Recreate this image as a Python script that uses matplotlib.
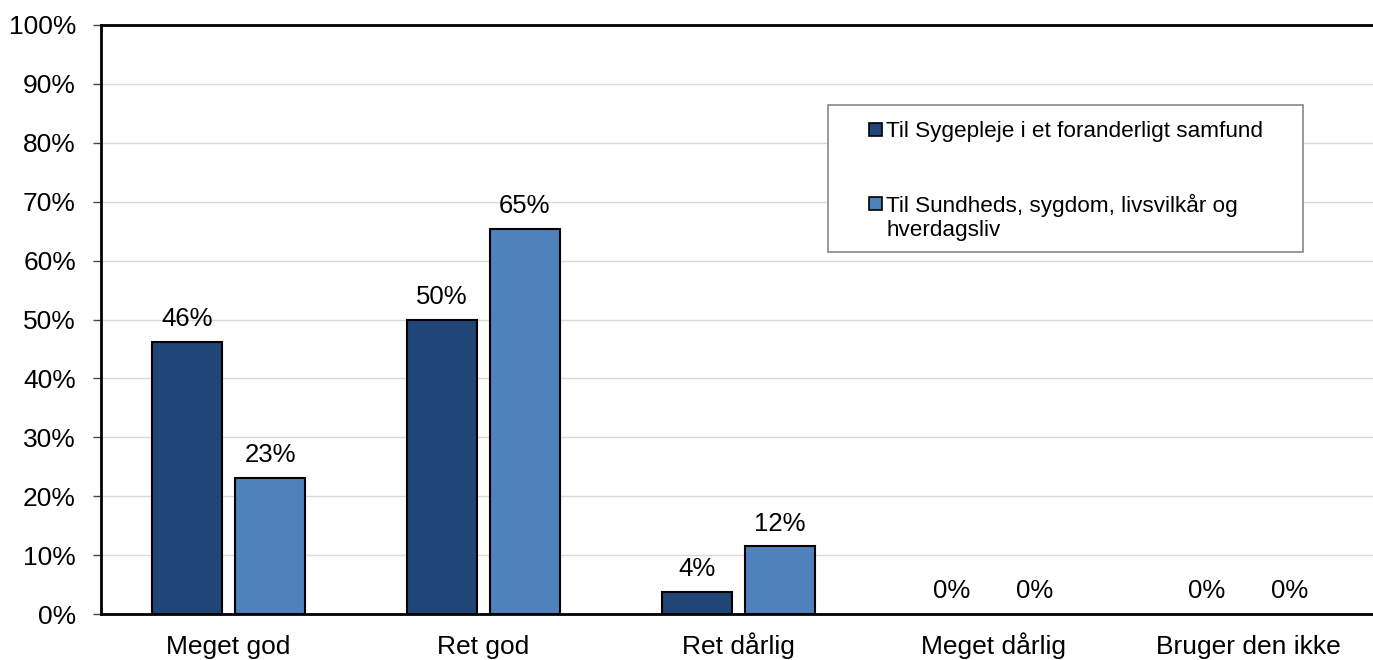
import numpy as np
import matplotlib
matplotlib.use('Agg')
import matplotlib.pyplot as plt
from matplotlib.patches import Rectangle

plt.rcParams['font.family'] = ['Liberation Sans', 'DejaVu Sans']

categories = ['Meget god', 'Ret god', 'Ret dårlig', 'Meget dårlig', 'Bruger den ikke']
series_names = ['Til Sygepleje i et foranderligt samfund',
                'Til Sundheds, sygdom, livsvilkår og\nhverdagsliv']
sygepleje = [46.2, 50.0, 3.8, 0.0, 0.0]
sundhed = [23.1, 65.4, 11.5, 0.0, 0.0]
colors = ['#1F4677', '#4F81BD']

W, H = 1373, 660
fig = plt.figure(figsize=(W / 100, H / 100), dpi=100)
ax = fig.add_axes([101 / W, 1 - 614 / H, 1 - 101 / W + 0.002, 589 / H])

x = np.arange(len(categories))
w = 0.275
off = 0.163
for i, vals in enumerate([sygepleje, sundhed]):
    pos = x + (-off if i == 0 else off)
    lw = [1.5 if v > 0 else 0 for v in vals]
    bars = ax.bar(pos, vals, w, color=colors[i], edgecolor='black', linewidth=lw, zorder=3)
    for b, v in zip(bars, vals):
        ax.text(b.get_x() + b.get_width() / 2, v + 1.8, '%d%%' % round(v),
                ha='center', va='bottom', fontsize=18.5)

ax.set_xlim(-0.5, 4.5)
ax.set_ylim(0, 100)
ax.set_yticks(np.arange(0, 101, 10))
ax.set_yticklabels(['%d%%' % t for t in range(0, 101, 10)], fontsize=19)
ax.set_xticks(x)
ax.set_xticklabels(categories, fontsize=19, va='baseline')
ax.tick_params(axis='x', length=0, pad=29)
ax.tick_params(axis='y', length=6, width=1, direction='out', color='#444444', pad=12)
ax.yaxis.grid(True, color='#d9d9d9', linewidth=1, zorder=0)
ax.set_axisbelow(True)
for s in ['left', 'top', 'bottom']:
    ax.spines[s].set_linewidth(2)
    ax.spines[s].set_color('black')
ax.spines['right'].set_visible(False)

# legend drawn by hand (handle lines up with the first text line)
def fx(px):
    return px / W

def fy(py):
    return 1 - py / H

fig.patches.append(Rectangle((fx(828), fy(252)), fx(1303) - fx(828), (252 - 105) / H,
                             transform=fig.transFigure, facecolor='white',
                             edgecolor='#888888', linewidth=1.2, zorder=5))
entry_y = [129, 203]
for i, name in enumerate(series_names):
    cy = entry_y[i]
    fig.patches.append(Rectangle((fx(869), fy(cy + 6.5)), 13 / W, 13 / H,
                                 transform=fig.transFigure, facecolor=colors[i],
                                 edgecolor='black', linewidth=1.2, zorder=6))
    for j, line in enumerate(name.split('\n')):
        fig.text(fx(886), fy(cy + 25 * j), line, fontsize=16.2,
                 ha='left', va='center_baseline', zorder=7)

fig.savefig('out.png', dpi=100)
